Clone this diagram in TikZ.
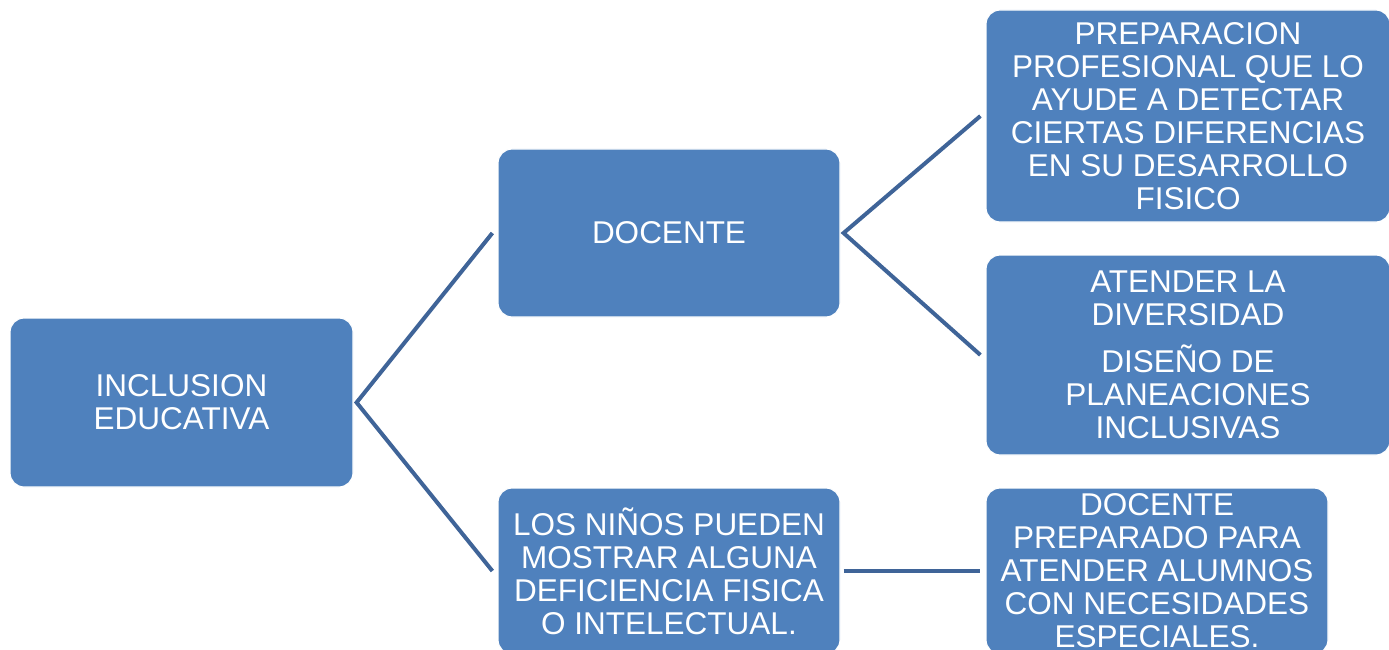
\documentclass[tikz,border=0pt]{standalone}
\usepackage{fontspec}
\setmainfont{Liberation Sans}
\definecolor{boxfill}{HTML}{4F81BD}
\definecolor{linkcol}{HTML}{3F6498}
\begin{document}
\begin{tikzpicture}[x=1pt,y=-1pt,
  box/.style={fill=boxfill,draw=white,line width=1.2pt,rounded corners=14pt,text=white,
    align=center,font=\fontsize{31.5}{33}\selectfont,inner sep=0pt},
  link/.style={draw=linkcol,line width=4pt}]
\clip (0,0) rectangle (1389,650);
\useasboundingbox (0,0) rectangle (1389,650);
\node[box,minimum width=343,minimum height=169] (incl) at (181.5,402.5) {INCLUSION\\EDUCATIVA};
\node[box,minimum width=342,minimum height=168] (doc) at (669,233) {DOCENTE};
\node[box,minimum width=342,minimum height=166] (ninos) at (669,571) {LOS NIÑOS PUEDEN\\MOSTRAR ALGUNA\\DEFICIENCIA FISICA\\O INTELECTUAL.};
\node[box,minimum width=404,minimum height=212] (prep) at (1188,116) {PREPARACION\\PROFESIONAL QUE LO\\AYUDE A DETECTAR\\CIERTAS DIFERENCIAS\\EN SU DESARROLLO\\FISICO};
\node[box,minimum width=404,minimum height=200] (aten) at (1188,355) {ATENDER LA\\DIVERSIDAD\\[14pt]DISEÑO DE\\PLANEACIONES\\INCLUSIVAS};
\node[box,minimum width=342,minimum height=166] (prepa) at (1157,571) {DOCENTE\\PREPARADO PARA\\ATENDER ALUMNOS\\CON NECESIDADES\\ESPECIALES.};
\coordinate (a) at ([xshift=3pt]incl.east);
\coordinate (b) at ([xshift=3pt]doc.east);
\draw[link] ([xshift=-5pt]doc.west) -- (a) -- ([xshift=-5pt]ninos.west);
\draw[link] ([xshift=-5pt]prep.west) -- (b) -- ([xshift=-5pt]aten.west);
\draw[link] ([xshift=3pt]ninos.east) -- ([xshift=-5pt]prepa.west);
\end{tikzpicture}
\end{document}
